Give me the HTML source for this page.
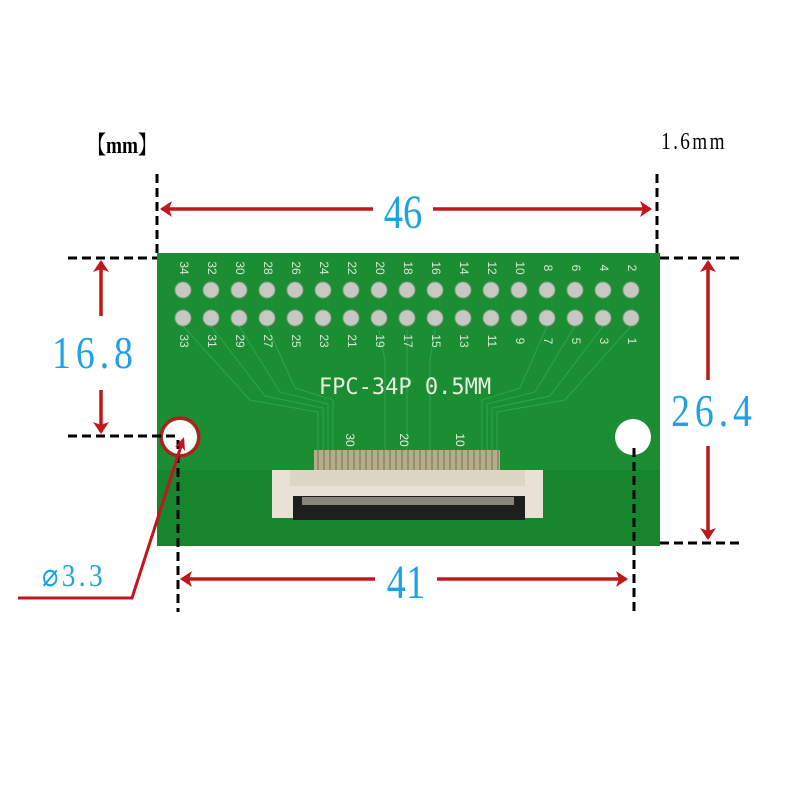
<!DOCTYPE html>
<html><head><meta charset="utf-8"><style>body{margin:0;background:#fff}svg{display:block}</style></head><body>
<svg width="800" height="800" viewBox="0 0 800 800" xmlns="http://www.w3.org/2000/svg">
<!-- board -->
<rect x="157" y="253" width="503" height="293" fill="#1b8d33"/>
<rect x="157" y="470" width="503" height="76" fill="#16852c"/>
<g stroke="#2ba748" stroke-width="1" fill="none">
<path d="M183,326 L250,400 L318,412 L318,450"/><path d="M211,326 L265,396 L323,408 L323,450"/>
<path d="M239,326 L280,392 L328,404 L328,450"/><path d="M267,326 L295,388 L333,400 L333,450"/>
<path d="M631,326 L565,400 L497,412 L497,450"/><path d="M603,326 L550,396 L492,408 L492,450"/>
<path d="M575,326 L535,392 L487,404 L487,450"/><path d="M547,326 L520,388 L482,400 L482,450"/>
<path d="M379,330 L385,360 L385,450"/><path d="M407,330 L407,450"/><path d="M435,330 L430,360 L430,450"/>
</g>
<text x="405" y="394" font-family="DejaVu Sans Mono,Liberation Mono,monospace" font-size="22" fill="#e8f0e0" text-anchor="middle">FPC-34P 0.5MM</text>
<text x="346" y="440" font-family="Liberation Sans,sans-serif" font-size="12" fill="#e8f0e0" transform="rotate(90 346 440)" text-anchor="middle">30</text>
<text x="400" y="440" font-family="Liberation Sans,sans-serif" font-size="12" fill="#e8f0e0" transform="rotate(90 400 440)" text-anchor="middle">20</text>
<text x="456" y="440" font-family="Liberation Sans,sans-serif" font-size="12" fill="#e8f0e0" transform="rotate(90 456 440)" text-anchor="middle">10</text>
<!-- gold pins -->
<rect x="314" y="450" width="186" height="22" fill="#b8ab8a"/>
<g stroke="#6a7a50" stroke-width="1">
<path d="M318,450V472M324,450V472M330,450V472M336,450V472M342,450V472M348,450V472M354,450V472M360,450V472M366,450V472M372,450V472M378,450V472M384,450V472M390,450V472M396,450V472M402,450V472M408,450V472M414,450V472M420,450V472M426,450V472M432,450V472M438,450V472M444,450V472M450,450V472M456,450V472M462,450V472M468,450V472M474,450V472M480,450V472M486,450V472M492,450V472M498,450V472"/>
</g>
<!-- connector -->
<rect x="272" y="470" width="271" height="48" fill="#e8e2d4"/>
<rect x="290" y="470" width="235" height="16" fill="#ddd6c4"/>
<rect x="293" y="496" width="232" height="24" fill="#1e1e1e"/>
<rect x="302" y="497" width="212" height="8" fill="#8a8478"/>
<!-- holes -->
<circle cx="180" cy="437" r="17" fill="#fff"/>
<circle cx="633" cy="437" r="18" fill="#fff"/>
<circle cx="180" cy="437" r="19" fill="none" stroke="#c0161c" stroke-width="3"/>
<!-- dashed lines -->
<g stroke="#000" stroke-width="3" stroke-dasharray="9,5" fill="none">
<path d="M157,174V256M657,174V256M68,258H157M660,258H742M68,436H176M660,543H742M178,440V612M634,448V612"/>
</g>
<!-- arrows -->
<g stroke="#c0161c" stroke-width="3.5" fill="none">
<path d="M162,209H373M433,209H650"/>
<path d="M182,579H375M437,579H626"/>
<path d="M101,262V316M101,390V432"/>
<path d="M708,262V380M708,446V538"/>
<path d="M18,598H132L183,440" stroke-width="3"/>
</g>
<g fill="#c0161c">
<path d="M160,209l12,-8l-3,8l3,8z"/><path d="M652,209l-12,-8l3,8l-3,8z"/>
<path d="M180,579l12,-8l-3,8l3,8z"/><path d="M628,579l-12,-8l3,8l-3,8z"/>
<path d="M101,260l-8,12l8,-3l8,3z"/><path d="M101,434l-8,-12l8,3l8,-3z"/>
<path d="M708,260l-8,12l8,-3l8,3z"/><path d="M708,540l-8,-12l8,3l8,-3z"/>
<path d="M184,437l-9,10l6,-1l4,5z"/>
</g>
<!-- labels -->
<g font-family="Liberation Serif,serif" fill="#1ea1e6">
<text x="403" y="228" font-size="48" text-anchor="middle" transform="translate(403 0) scale(0.8 1) translate(-403 0)">46</text>
<text x="406" y="598" font-size="48" text-anchor="middle" transform="translate(406 0) scale(0.8 1) translate(-406 0)">41</text>
<text x="95" y="368" font-size="46" text-anchor="middle" letter-spacing="6" transform="translate(95 0) scale(0.82 1) translate(-95 0)">16.8</text>
<text x="714" y="426" font-size="46" text-anchor="middle" letter-spacing="6" transform="translate(714 0) scale(0.82 1) translate(-714 0)">26.4</text>
<text x="74" y="586" font-size="32" text-anchor="middle" letter-spacing="4" transform="translate(74 0) scale(0.85 1) translate(-74 0)">⌀3.3</text>
</g>
<g font-family="Liberation Serif,'Noto Serif CJK SC',serif" fill="#000">
<text x="122" y="153" font-size="24" font-weight="bold" text-anchor="middle" transform="translate(122 0) scale(0.8 1) translate(-122 0)">【mm】</text>
<text x="694" y="149" font-size="24" text-anchor="middle" letter-spacing="3" transform="translate(694 0) scale(0.8 1) translate(-694 0)">1.6mm</text>
</g>
<g fill="#c8c8c2" stroke="#7fa080" stroke-width="1">
<circle cx="183" cy="290" r="8"/><circle cx="211" cy="290" r="8"/><circle cx="239" cy="290" r="8"/><circle cx="267" cy="290" r="8"/><circle cx="295" cy="290" r="8"/><circle cx="323" cy="290" r="8"/><circle cx="351" cy="290" r="8"/><circle cx="379" cy="290" r="8"/><circle cx="407" cy="290" r="8"/><circle cx="435" cy="290" r="8"/><circle cx="463" cy="290" r="8"/><circle cx="491" cy="290" r="8"/><circle cx="519" cy="290" r="8"/><circle cx="547" cy="290" r="8"/><circle cx="575" cy="290" r="8"/><circle cx="603" cy="290" r="8"/><circle cx="631" cy="290" r="8"/>
<circle cx="183" cy="318" r="8"/><circle cx="211" cy="318" r="8"/><circle cx="239" cy="318" r="8"/><circle cx="267" cy="318" r="8"/><circle cx="295" cy="318" r="8"/><circle cx="323" cy="318" r="8"/><circle cx="351" cy="318" r="8"/><circle cx="379" cy="318" r="8"/><circle cx="407" cy="318" r="8"/><circle cx="435" cy="318" r="8"/><circle cx="463" cy="318" r="8"/><circle cx="491" cy="318" r="8"/><circle cx="519" cy="318" r="8"/><circle cx="547" cy="318" r="8"/><circle cx="575" cy="318" r="8"/><circle cx="603" cy="318" r="8"/><circle cx="631" cy="318" r="8"/>
</g>
<g font-family="Liberation Sans,sans-serif" font-size="12" fill="#d8e8d4" text-anchor="middle">
<text transform="translate(180 268) rotate(90)">34</text><text transform="translate(208 268) rotate(90)">32</text><text transform="translate(236 268) rotate(90)">30</text><text transform="translate(264 268) rotate(90)">28</text><text transform="translate(292 268) rotate(90)">26</text><text transform="translate(320 268) rotate(90)">24</text><text transform="translate(348 268) rotate(90)">22</text><text transform="translate(376 268) rotate(90)">20</text><text transform="translate(404 268) rotate(90)">18</text><text transform="translate(432 268) rotate(90)">16</text><text transform="translate(460 268) rotate(90)">14</text><text transform="translate(488 268) rotate(90)">12</text><text transform="translate(516 268) rotate(90)">10</text><text transform="translate(544 268) rotate(90)">8</text><text transform="translate(572 268) rotate(90)">6</text><text transform="translate(600 268) rotate(90)">4</text><text transform="translate(628 268) rotate(90)">2</text>
<text transform="translate(180 341) rotate(90)">33</text><text transform="translate(208 341) rotate(90)">31</text><text transform="translate(236 341) rotate(90)">29</text><text transform="translate(264 341) rotate(90)">27</text><text transform="translate(292 341) rotate(90)">25</text><text transform="translate(320 341) rotate(90)">23</text><text transform="translate(348 341) rotate(90)">21</text><text transform="translate(376 341) rotate(90)">19</text><text transform="translate(404 341) rotate(90)">17</text><text transform="translate(432 341) rotate(90)">15</text><text transform="translate(460 341) rotate(90)">13</text><text transform="translate(488 341) rotate(90)">11</text><text transform="translate(516 341) rotate(90)">9</text><text transform="translate(544 341) rotate(90)">7</text><text transform="translate(572 341) rotate(90)">5</text><text transform="translate(600 341) rotate(90)">3</text><text transform="translate(628 341) rotate(90)">1</text>
</g>
</svg>
</body></html>
